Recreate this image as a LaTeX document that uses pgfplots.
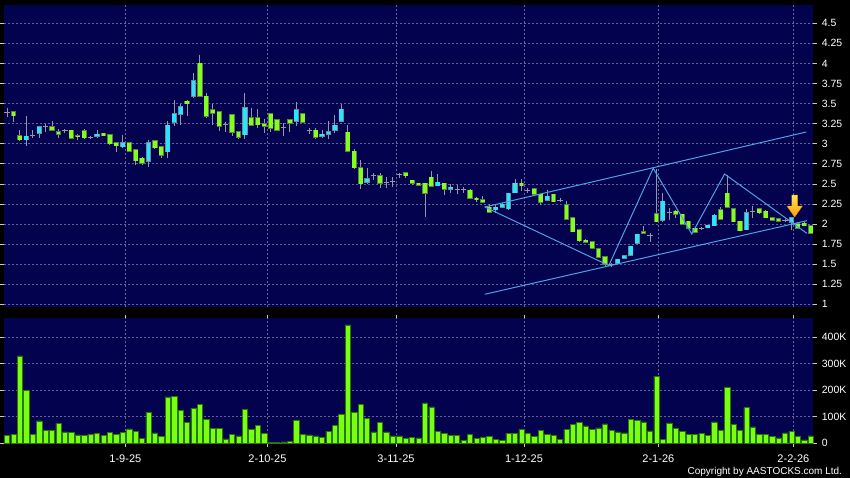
\documentclass[border=0pt]{standalone}
\usepackage{pgfplots}
\pgfplotsset{compat=1.18}
\usepackage{pgfplotstable}
\usepackage{fontspec}
\setmainfont{Liberation Sans}

\definecolor{bg}{RGB}{2,2,78}
\definecolor{gridc}{RGB}{100,100,150}
\definecolor{upfill}{RGB}{40,228,255}
\definecolor{upedge}{RGB}{110,140,150}
\definecolor{dnfill}{RGB}{130,255,30}
\definecolor{dnedge}{RGB}{90,130,60}
\definecolor{wick}{RGB}{150,150,165}
\definecolor{vol}{RGB}{120,255,20}
\definecolor{voledge}{RGB}{40,120,0}
\definecolor{trend}{RGB}{80,160,230}
\definecolor{tickc}{RGB}{200,200,200}

\pgfplotstableread{
i o h l c v
0 3.39 3.45 3.33 3.39 30
1 3.40 3.40 3.27 3.35 34
2 3.10 3.165 3.04 3.05 330
3 3.05 3.35 2.97 3.09 200
4 3.10 3.165 3.07 3.10 34
5 3.13 3.21 3.07 3.21 85
6 3.22 3.24 3.15 3.22 49
7 3.21 3.28 3.16 3.165 50
8 3.15 3.18 3.07 3.12 76
9 3.16 3.18 3.13 3.16 43
10 3.17 3.17 3.07 3.07 42
11 3.10 3.12 3.05 3.09 32
12 3.16 3.18 3.06 3.075 30
13 3.08 3.10 3.06 3.08 34
14 3.095 3.165 3.07 3.12 38
15 3.13 3.13 3.10 3.10 30
16 3.11 3.12 2.98 3.00 42
17 3.01 3.02 2.90 2.975 34
18 2.96 3.11 2.95 3.01 42
19 3.01 3.02 2.90 2.91 54
20 2.925 2.93 2.74 2.79 46
21 2.82 2.83 2.74 2.76 19
22 2.785 3.05 2.71 3.01 118
23 3.04 3.05 2.94 2.95 39
24 2.96 2.97 2.82 2.86 27
25 2.90 3.28 2.82 3.23 175
26 3.27 3.54 3.22 3.37 176
27 3.37 3.50 3.23 3.46 123
28 3.53 3.54 3.35 3.50 80
29 3.59 3.88 3.57 3.785 133
30 4.00 4.11 3.58 3.59 146
31 3.59 3.63 3.32 3.34 91
32 3.42 3.50 3.23 3.38 57
33 3.40 3.41 3.155 3.22 55
34 3.235 3.27 3.15 3.235 17
35 3.36 3.36 3.10 3.14 34
36 3.15 3.16 3.06 3.08 28
37 3.11 3.63 3.06 3.45 128
38 3.32 3.44 3.22 3.23 52
39 3.32 3.43 3.20 3.235 68
40 3.25 3.31 3.13 3.22 38
41 3.37 3.38 3.14 3.19 4
42 3.30 3.31 3.16 3.17 4
43 3.20 3.26 3.10 3.20 5
44 3.30 3.31 3.15 3.255 6
45 3.28 3.525 3.22 3.425 86
46 3.37 3.38 3.26 3.27 34
47 3.165 3.19 3.12 3.165 32
48 3.17 3.19 3.06 3.08 28
49 3.095 3.165 3.07 3.12 23
50 3.12 3.28 3.06 3.15 46
51 3.165 3.36 3.13 3.23 67
52 3.28 3.50 3.27 3.43 110
53 3.14 3.23 2.90 2.905 447
54 2.905 2.93 2.69 2.70 116
55 2.70 2.80 2.43 2.50 146
56 2.52 2.70 2.50 2.565 94
57 2.60 2.64 2.55 2.60 43
58 2.60 2.64 2.45 2.505 80
59 2.52 2.59 2.45 2.52 43
60 2.53 2.58 2.46 2.53 28
61 2.615 2.64 2.57 2.615 28
62 2.64 2.64 2.57 2.60 18
63 2.545 2.55 2.48 2.505 23
64 2.505 2.51 2.47 2.48 20
65 2.505 2.51 2.09 2.38 153
66 2.58 2.66 2.46 2.47 137
67 2.475 2.62 2.47 2.52 46
68 2.505 2.51 2.36 2.43 38
69 2.43 2.50 2.38 2.455 30
70 2.43 2.48 2.37 2.43 30
71 2.43 2.46 2.39 2.43 11
72 2.42 2.43 2.31 2.32 33
73 2.32 2.34 2.27 2.31 18
74 2.30 2.35 2.26 2.27 22
75 2.21 2.25 2.14 2.15 27
76 2.18 2.24 2.14 2.21 15
77 2.21 2.26 2.20 2.245 11
78 2.19 2.38 2.18 2.38 38
79 2.39 2.565 2.38 2.505 37
80 2.505 2.555 2.41 2.475 52
81 2.42 2.45 2.39 2.42 38
82 2.44 2.44 2.36 2.37 27
83 2.37 2.37 2.24 2.27 48
84 2.295 2.42 2.29 2.345 34
85 2.37 2.37 2.27 2.28 29
86 2.29 2.32 2.27 2.29 14
87 2.24 2.29 2.05 2.06 53
88 2.08 2.08 1.90 1.905 71
89 1.93 1.93 1.78 1.79 80
90 1.80 1.81 1.76 1.77 66
91 1.78 1.79 1.69 1.70 52
92 1.69 1.69 1.58 1.585 58
93 1.595 1.60 1.47 1.50 73
94 1.49 1.51 1.47 1.49 49
95 1.51 1.56 1.50 1.56 43
96 1.575 1.61 1.57 1.605 39
97 1.61 1.72 1.61 1.72 90
98 1.76 1.88 1.75 1.87 87
99 1.905 1.97 1.87 1.885 81
100 1.86 1.89 1.78 1.86 47
101 2.13 2.69 2.02 2.03 253
102 2.05 2.38 2.03 2.285 16
103 2.14 2.20 2.05 2.14 77
104 2.16 2.17 2.08 2.12 55
105 2.12 2.13 1.99 2.00 44
106 2.035 2.04 1.94 1.945 34
107 1.945 1.95 1.89 1.895 34
108 1.945 1.96 1.92 1.945 37
109 1.955 1.99 1.95 1.985 31
110 1.98 2.13 1.97 2.11 81
111 2.18 2.21 2.05 2.06 49
112 2.38 2.61 2.20 2.21 211
113 2.19 2.19 2.02 2.03 70
114 2.035 2.04 1.91 1.915 49
115 1.93 2.19 1.92 2.14 136
116 2.16 2.23 2.08 2.16 62
117 2.19 2.20 2.13 2.14 35
118 2.16 2.17 2.07 2.08 35
119 2.08 2.09 2.04 2.05 26
120 2.065 2.07 2.03 2.035 20
121 2.04 2.06 2.02 2.04 39
122 2.02 2.09 1.92 2.08 45
123 2.00 2.02 1.94 1.945 26
124 2.01 2.02 1.97 1.98 13
125 1.98 1.98 1.88 1.885 28
}\ohlc

\pgfplotsset{
  chartbase/.style={
    scale only axis,
    width=809.8pt,
    xmin=-0.55, xmax=125.4,
    axis background/.style={fill=bg},
    axis line style={draw=none},
    grid=major,
    major grid style={dash pattern=on 2pt off 2pt, gridc, line width=0.6pt},
    xtick={18.4,40.5,60.5,80.4,101.3,122.3},
    tick align=outside,
    major tick length=3.5pt,
    yticklabel pos=right,
    ytick style={tickc, line width=0.6pt},
    yticklabel style={font=\fontsize{10.5}{12}\selectfont, text=white, xshift=1.5pt},
    /pgf/number format/assume math mode=true,
    clip=true,
  }
}

\begin{document}
\begin{tikzpicture}
\fill[black] (0pt,0pt) rectangle (850pt,478pt);

% price panel
\begin{axis}[chartbase,
  at={(3.5pt,170.7pt)}, anchor=south west,
  height=302.3pt,
  ymin=0.9626, ymax=4.728,
  ytick={1,1.25,...,4.5},
  yticklabel={\pgfmathprintnumber[fixed,precision=2]{\tick}},
  xticklabels={},
  xtick style={draw=none},
]
% wicks
\addplot[forget plot, draw=none, mark=none,
  error bars/.cd, y dir=both, y explicit, error mark=none,
  error bar style={line width=0.9pt, wick}]
  table[x=i, y expr={(\thisrow{h}+\thisrow{l})/2}, y error expr={(\thisrow{h}-\thisrow{l})/2}] {\ohlc};
% up bodies: edge then fill
\addplot[forget plot, draw=none, mark=none,
  restrict expr to domain={\thisrow{c}-\thisrow{o}}{0.0001:10},
  error bars/.cd, y dir=both, y explicit, error mark=none,
  error bar style={line width=5.2pt, upedge}]
  table[x=i, y expr={(\thisrow{o}+\thisrow{c})/2}, y error expr={abs(\thisrow{c}-\thisrow{o})/2+0.007}] {\ohlc};
\addplot[forget plot, draw=none, mark=none,
  restrict expr to domain={\thisrow{c}-\thisrow{o}}{0.0001:10},
  error bars/.cd, y dir=both, y explicit, error mark=none,
  error bar style={line width=3.8pt, upfill}]
  table[x=i, y expr={(\thisrow{o}+\thisrow{c})/2}, y error expr={abs(\thisrow{c}-\thisrow{o})/2}] {\ohlc};
% down bodies
\addplot[forget plot, draw=none, mark=none,
  restrict expr to domain={\thisrow{o}-\thisrow{c}}{0.0001:10},
  error bars/.cd, y dir=both, y explicit, error mark=none,
  error bar style={line width=5.2pt, dnedge}]
  table[x=i, y expr={(\thisrow{o}+\thisrow{c})/2}, y error expr={abs(\thisrow{c}-\thisrow{o})/2+0.007}] {\ohlc};
\addplot[forget plot, draw=none, mark=none,
  restrict expr to domain={\thisrow{o}-\thisrow{c}}{0.0001:10},
  error bars/.cd, y dir=both, y explicit, error mark=none,
  error bar style={line width=3.8pt, dnfill}]
  table[x=i, y expr={(\thisrow{o}+\thisrow{c})/2}, y error expr={abs(\thisrow{c}-\thisrow{o})/2}] {\ohlc};
% doji
\addplot[forget plot, only marks, mark=-, mark size=2.6pt,
  mark options={line width=1pt, draw=wick},
  restrict expr to domain={abs(\thisrow{c}-\thisrow{o})}{-1:0.0001}]
  table[x=i, y=c] {\ohlc};
% trend lines
\addplot[trend, line width=1pt, mark=none] coordinates {(74.3,2.212) (124.3,3.146)};
\addplot[trend, line width=1pt, mark=none] coordinates {(74.3,1.125) (124.4,2.041)};
\addplot[trend, line width=1pt, mark=none] coordinates {(74.3,2.212) (93.6,1.483) (100.5,2.694) (106.5,1.876) (111.6,2.623) (124.4,1.884)};
% arrow
\addplot[draw={rgb,255:red,230;green,140;blue,0}, line width=0.4pt,
  top color={rgb,255:red,255;green,230;blue,90}, bottom color={rgb,255:red,255;green,160;blue,0}]
  coordinates {(122.05,2.361) (122.95,2.361) (122.95,2.224) (123.7,2.224) (122.5,2.087) (121.3,2.224) (122.05,2.224)} -- cycle;
\end{axis}

% volume panel
\begin{axis}[chartbase,
  at={(3.5pt,34.7pt)}, anchor=south west,
  height=125pt,
  ymin=0, ymax=471.7,
  ytick={0,100,200,300,400},
  yticklabels={0,100K,200K,300K,400K},
  bar width=0.82,
  xticklabels={1-9-25,2-10-25,3-11-25,1-12-25,2-1-26,2-2-26},
  xtick style={tickc, line width=0.6pt},
  xticklabel style={font=\fontsize{11}{13}\selectfont, text=white, yshift=-4pt},
]
\addplot[ybar, fill=vol, draw=voledge, line width=0.5pt] table[x=i, y=v] {\ohlc};
\end{axis}

\node[anchor=base east, text=white, font=\fontsize{10}{11}\selectfont] at (845.5pt,3.5pt) {Copyright by AASTOCKS.com Ltd.};

\pgfresetboundingbox
\path (0pt,0pt) rectangle (850pt,478pt);
\end{tikzpicture}
\end{document}
